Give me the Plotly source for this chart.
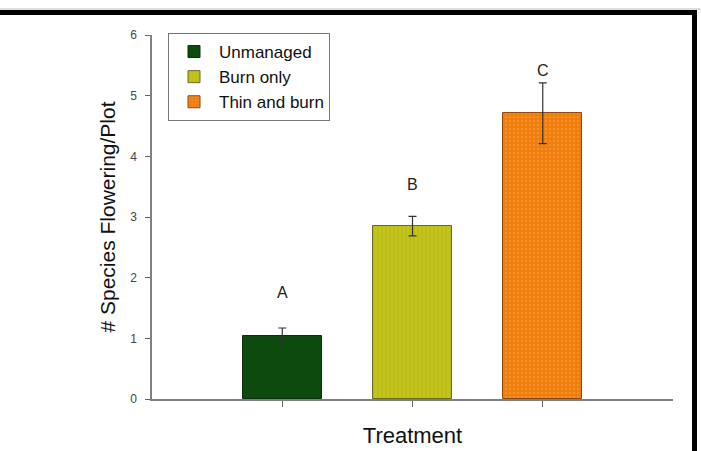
import plotly.graph_objects as go

treatments = ["Unmanaged", "Burn only", "Thin and burn"]
positions = [1, 2, 3]
means = [1.04, 2.85, 4.71]
errors = [0.13, 0.16, 0.50]
letters = ["A", "B", "C"]
letter_y = [1.75, 3.53, 5.42]
colors = ["#0d4a0d", "#c3c41c", "#f07c0c"]
pattern_shapes = ["", "|", "."]
pattern_fg = ["#0d4a0d", "#a9ab14", "#f7a54a"]
outline = ["#0a300a", "#6b6b20", "#8a4a10"]
yticks = [0, 1, 2, 3, 4, 5, 6]

fig = go.Figure()
for i, name in enumerate(treatments):
    fig.add_trace(go.Bar(
        x=[positions[i]], y=[means[i]], name=name, width=0.61,
        marker=dict(color=colors[i], line=dict(color=outline[i], width=1),
                    pattern=dict(shape=pattern_shapes[i], fgcolor=pattern_fg[i],
                                 size=4, solidity=0.3)),
        error_y=dict(type="data", array=[errors[i]], color="#333333",
                     thickness=1.2, width=4),
    ))

for i in range(3):
    fig.add_annotation(x=positions[i], y=letter_y[i], text=letters[i], showarrow=False,
                       font=dict(family="Liberation Sans, Arial", size=16, color="#222222"))

W0, W1 = 152, 673
H0, H1 = 399, 35
def px(x):
    return (x - W0) / (W1 - W0)
def py(y):
    return (H0 - y) / (H0 - H1)

fig.add_shape(type="line", xref="paper", yref="paper", x0=px(0), x1=px(701), y0=py(9), y1=py(9),
              line=dict(color="#bdbdbd", width=1))
fig.add_shape(type="rect", xref="paper", yref="paper", x0=px(0), x1=px(697), y0=py(15), y1=py(10),
              fillcolor="black", line=dict(width=0))
fig.add_shape(type="rect", xref="paper", yref="paper", x0=px(692), x1=px(697), y0=py(460), y1=py(10),
              fillcolor="black", line=dict(width=0))

fig.update_layout(
    width=701, height=451,
    margin=dict(l=152, r=28, t=35, b=52),
    paper_bgcolor="white", plot_bgcolor="white",
    showlegend=True,
    legend=dict(x=px(168), y=py(33), xanchor="left", yanchor="top",
                bgcolor="white", bordercolor="#777777", borderwidth=1,
                font=dict(family="Liberation Sans, Arial", size=17, color="#111111"),
                itemwidth=40, tracegroupgap=0),
    font=dict(family="Liberation Sans, Arial"),
    bargap=0,
)
fig.update_xaxes(range=[0, 4], tickvals=positions, showticklabels=False, ticks="outside",
                 ticklen=6, tickcolor="#666666", showline=True, linecolor="#808080", linewidth=1.5,
                 showgrid=False, zeroline=False, automargin=False,
                 title=dict(text="Treatment", font=dict(size=22, color="#111111"), standoff=22))
fig.update_yaxes(range=[0, 6], tickvals=yticks, ticks="outside", ticklen=5, tickcolor="#666666",
                 showline=True, linecolor="#808080", linewidth=1.5, showgrid=False, zeroline=False,
                 automargin=False,
                 tickfont=dict(size=12, color="#444444"), ticklabelstandoff=6,
                 title=dict(text="# Species Flowering/Plot", font=dict(size=21, color="#111111"), standoff=9))

fig.write_html("out.html")
